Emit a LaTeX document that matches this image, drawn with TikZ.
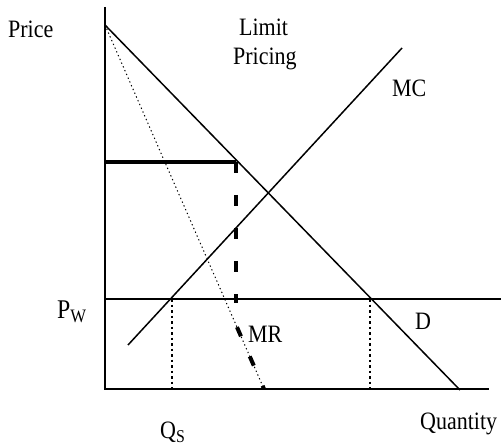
\documentclass[tikz,border=0pt]{standalone}
\usepackage{fontspec}
\setmainfont{Liberation Serif}
\usepackage{tikz}
\usetikzlibrary{positioning,calc}
\tikzset{
  axis/.style={line width=2pt},
  curve/.style={line width=1.5pt},
  worldline/.style={line width=2pt},
  guide/.style={line width=1.6pt,dash pattern=on 2.5pt off 3pt},
  mrline/.style={line width=1pt,dash pattern=on 1.3pt off 2.8pt},
  mrbold/.style={line width=4pt,dash pattern=on 10pt off 22pt},
  limitline/.style={line width=4.5pt},
  limitdrop/.style={line width=4pt,dash pattern=on 11pt off 22pt},
  lbl/.style={inner sep=0pt,anchor=base west,xscale=0.88,
    font=\fontsize{25}{30}\selectfont}
}

\begin{document}
\begin{tikzpicture}[x=1pt,y=-1pt]
  \useasboundingbox (0,0) rectangle (503,446);
  % axes
  \coordinate (origin) at (105,389);
  \coordinate (ytop) at (105,7);
  \coordinate (xend) at (489,389);
  \draw[axis] (ytop)--(origin)--(xend);
  % demand, marginal revenue, marginal cost
  \coordinate (dtop) at (105,25);
  \coordinate (dend) at (460,390);
  \coordinate (mrend) at (264,389);
  \coordinate (mclow) at (128,345);
  \coordinate (mchigh) at (402,48);
  \draw[curve] (dtop)--(dend);
  \draw[curve] (mclow)--(mchigh);
  \draw[mrline] (dtop)--(mrend);
  \draw[mrbold] ($(dtop)!0.83!(mrend)$)--(mrend);
  % world price and quantities
  \coordinate (pwleft) at (105,299);
  \coordinate (pwright) at (501,299);
  \draw[worldline] (pwleft)--(pwright);
  \coordinate (qsup) at (172,299); \coordinate (qsdown) at (172,389);
  \coordinate (qdup) at (370,299); \coordinate (qddown) at (370,389);
  \draw[guide] (qsup)--(qsdown);
  \draw[guide] (qdup)--(qddown);
  % limit price
  \coordinate (lpleft) at (105,162);
  \coordinate (lpright) at (236,162);
  \coordinate (lpdown) at (236,303);
  \draw[limitline] (lpleft)--(lpright);
  \draw[limitdrop] (lpright)--(lpdown);
  % labels
  \node[lbl] (price) at (8,38) {Price};
  \node[lbl] (limit) at (239,36) {Limit};
  \node[lbl] (pricing) at (233,65) {Pricing};
  \node[lbl] (mc) at (392,97) {MC};
  \node[lbl] (dem) at (415,329) {D};
  \node[lbl] (mr) at (248,342) {MR};
  \node[lbl] (quantity) at (420,429) {Quantity};
  \node[lbl,font=\fontsize{27}{30}\selectfont] (pw) at (57,318)
    {P{\fontsize{19}{20}\selectfont\raisebox{-4pt}{W}}};
  \node[lbl,font=\fontsize{25}{28}\selectfont] (qs) at (160,438)
    {Q{\fontsize{18}{20}\selectfont\raisebox{-4pt}{S}}};
\end{tikzpicture}
\end{document}
